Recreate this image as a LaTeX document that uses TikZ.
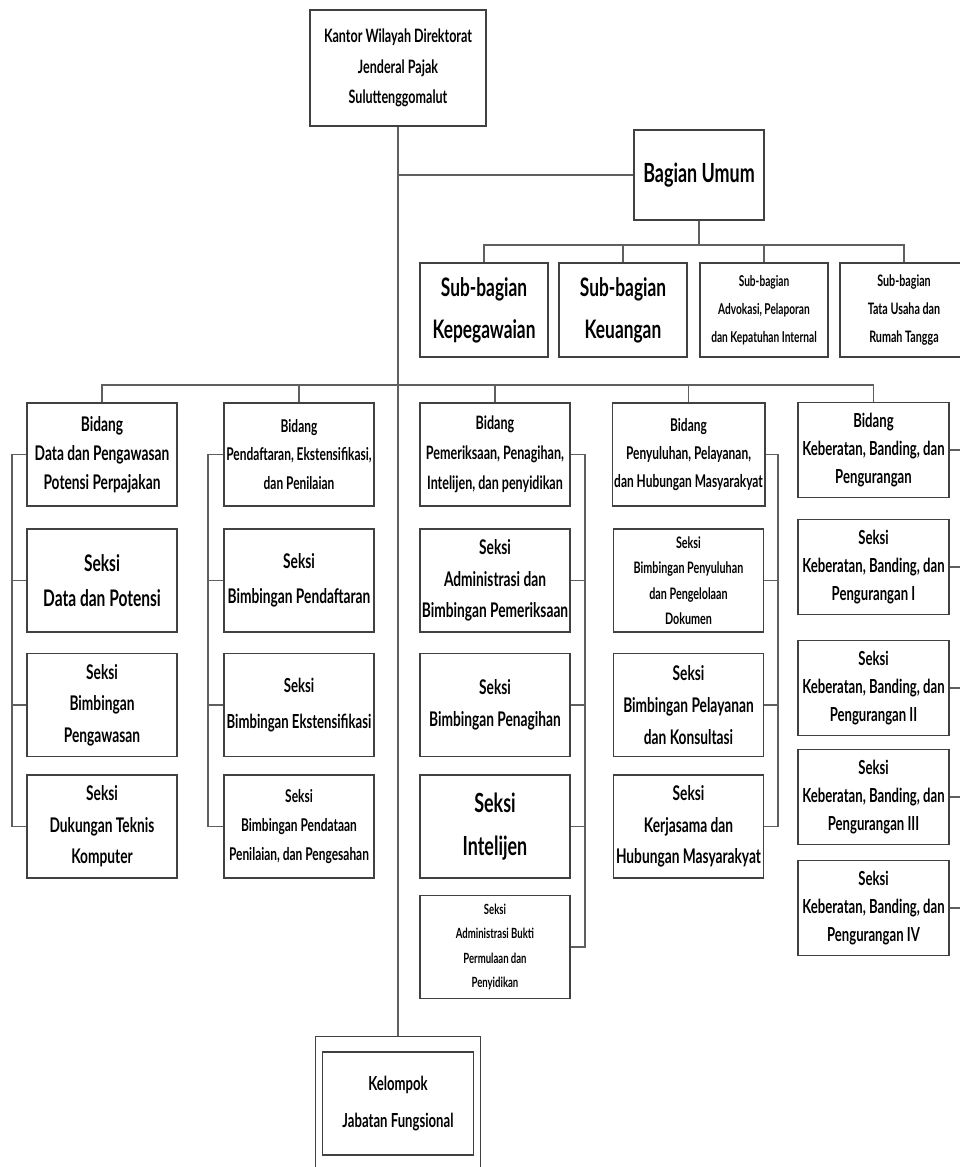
\documentclass[tikz,border=0pt]{standalone}
\usepackage{fontspec}
\setmainfont{Lato}[FakeStretch=0.68]
\usepackage{tikz}
\usetikzlibrary{positioning, calc}
\definecolor{boxgray}{RGB}{65, 65, 65}
\definecolor{linegray}{RGB}{95, 95, 95}
\tikzset{
  unit/.style={draw=boxgray, line width=1.1pt, fill=white, align=center,
    inner sep=1pt, minimum width=3cm, minimum height=2.06cm,
    font=\fontsize{11.5}{18}\bfseries\selectfont},
  subunit/.style={unit, minimum width=2.56cm, minimum height=1.88cm},
  sideunit/.style={unit, minimum width=3.02cm, minimum height=1.9cm,
    font=\fontsize{11}{16}\bfseries\selectfont},
  link/.style={draw=linegray, line width=0.8pt},
}

\begin{document}
\begin{tikzpicture}[x=0.02cm, y=-0.02cm]
        \useasboundingbox (0,0) rectangle (960,1167);

        % head office and general section
        \node[unit, minimum width=3.52cm, minimum height=2.32cm,
          font=\fontsize{10.5}{17.5}\bfseries\selectfont] (kantor) at (398,68)
          {Kantor Wilayah Direktorat\\Jenderal Pajak\\Suluttenggomalut};
        \node[unit, minimum width=2.6cm, minimum height=1.8cm,
          font=\fontsize{15}{20}\bfseries\selectfont] (umum) at (699,175) {Bagian Umum};

        \node[subunit, font=\fontsize{14.5}{24}\bfseries\selectfont] (sbpeg) at (484,310)
          {Sub-bagian\\Kepegawaian};
        \node[subunit, font=\fontsize{14.5}{24}\bfseries\selectfont] (sbkeu) at (623,310)
          {Sub-bagian\\Keuangan};
        \node[subunit, font=\fontsize{8.5}{16}\bfseries\selectfont] (sbadv) at (764,310)
          {Sub-bagian\\Advokasi, Pelaporan\\dan Kepatuhan Internal};
        \node[subunit, font=\fontsize{9}{16}\bfseries\selectfont] (sbtu) at (904,310)
          {Sub-bagian\\Tata Usaha dan\\Rumah Tangga};

        % column 1
        \node[unit, font=\fontsize{11.5}{16.5}\bfseries\selectfont] (b1) at (102,454.5)
          {Bidang\\Data dan Pengawasan\\Potensi Perpajakan};
        \node[unit, font=\fontsize{13}{20}\bfseries\selectfont] (s11) at (102,580.5)
          {Seksi\\Data dan Potensi};
        \node[unit] (s12) at (102,705) {Seksi\\Bimbingan\\Pengawasan};
        \node[unit] (s13) at (102,826.5) {Seksi\\Dukungan Teknis\\Komputer};

        % column 2
        \node[unit, font=\fontsize{10}{16}\bfseries\selectfont] (b2) at (299,454.5)
          {Bidang\\Pendaftaran, Ekstensifikasi,\\dan Penilaian};
        \node[unit, font=\fontsize{11.5}{20}\bfseries\selectfont] (s21) at (299,580.5)
          {Seksi\\Bimbingan Pendaftaran};
        \node[unit, font=\fontsize{11}{20}\bfseries\selectfont] (s22) at (299,705)
          {Seksi\\Bimbingan Ekstensifikasi};
        \node[unit, font=\fontsize{10}{16.5}\bfseries\selectfont] (s23) at (299,826.5)
          {Seksi\\Bimbingan Pendataan\\Penilaian, dan Pengesahan};

        % column 3
        \node[unit, font=\fontsize{10.5}{17}\bfseries\selectfont] (b3) at (495,454.5)
          {Bidang\\Pemeriksaan, Penagihan,\\Intelijen, dan penyidikan};
        \node[unit] (s31) at (495,580.5)
          {Seksi\\Administrasi dan\\Bimbingan Pemeriksaan};
        \node[unit] (s32) at (495,705) {Seksi\\Bimbingan Penagihan};
        \node[unit, font=\fontsize{15}{24}\bfseries\selectfont] (s33) at (495,826.5)
          {Seksi\\Intelijen};
        \node[unit, font=\fontsize{8}{14}\bfseries\selectfont] (s34) at (495,947)
          {Seksi\\Administrasi Bukti\\Permulaan dan\\Penyidikan};

        % column 4
        \node[unit, font=\fontsize{10}{16}\bfseries\selectfont] (b4) at (688.5,454.5)
          {Bidang\\Penyuluhan, Pelayanan,\\dan Hubungan Masyarakyat};
        \node[unit, font=\fontsize{9}{14.5}\bfseries\selectfont] (s41) at (688.5,580.5)
          {Seksi\\Bimbingan Penyuluhan\\dan Pengelolaan\\Dokumen};
        \node[unit] (s42) at (688.5,705)
          {Seksi\\Bimbingan Pelayanan\\dan Konsultasi};
        \node[unit] (s43) at (688.5,826.5)
          {Seksi\\Kerjasama dan\\Hubungan Masyarakyat};

        % column 5
        \node[sideunit] (b5) at (873.5,450)
          {Bidang\\Keberatan, Banding, dan\\Pengurangan};
        \node[sideunit] (s51) at (873.5,567)
          {Seksi\\Keberatan, Banding, dan\\Pengurangan I};
        \node[sideunit] (s52) at (873.5,688)
          {Seksi\\Keberatan, Banding, dan\\Pengurangan II};
        \node[sideunit] (s53) at (873.5,797)
          {Seksi\\Keberatan, Banding, dan\\Pengurangan III};
        \node[sideunit] (s54) at (873.5,908)
          {Seksi\\Keberatan, Banding, dan\\Pengurangan IV};

        % functional group (outer frame runs off the page)
        \node[unit, minimum width=3.3cm, minimum height=3.1cm] (kelompok)
          at (398,1114) {};
        \node[unit, minimum width=3.02cm, font=\fontsize{11}{21}\bfseries\selectfont]
          (jabatan) at (398,1103.5) {Kelompok\\Jabatan Fungsional};

        % bus lines and bracket positions
        \coordinate (ubus) at (0,245);
        \coordinate (mbus) at (0,385);
        \coordinate (bk1) at (12,0);
        \coordinate (bk2) at (208,0);
        \coordinate (bk3) at (585,0);
        \coordinate (bk4) at (778,0);
        \coordinate (bk5) at (960,0);

        % trunk
        \draw[link] (kantor.south) -- (kelompok.north);
        \draw[link] (umum.west) -- (umum.west -| kantor.south);

        % general section bus
        \draw[link] (umum.south) -- (umum.south |- ubus);
        \draw[link] (sbpeg.north) -- (sbpeg.north |- ubus)
          -- (sbtu.north |- ubus) -- (sbtu.north);
        \draw[link] (sbkeu.north) -- (sbkeu.north |- ubus);
        \draw[link] (sbadv.north) -- (sbadv.north |- ubus);

        % main bus
        \draw[link] (b1.north) -- (b1.north |- mbus)
          -- (b5.north |- mbus) -- (b5.north);
        \draw[link] (b2.north) -- (b2.north |- mbus);
        \draw[link] (b3.north) -- (b3.north |- mbus);
        \draw[link] (b4.north) -- (b4.north |- mbus);

        % brackets, column 1
        \draw[link] (b1.west) -- (b1.west -| bk1) -- (s13.west -| bk1) -- (s13.west);
        \draw[link] (s11.west) -- (s11.west -| bk1);
        \draw[link] (s12.west) -- (s12.west -| bk1);

        % brackets, column 2
        \draw[link] (b2.west) -- (b2.west -| bk2) -- (s23.west -| bk2) -- (s23.west);
        \draw[link] (s21.west) -- (s21.west -| bk2);
        \draw[link] (s22.west) -- (s22.west -| bk2);

        % brackets, column 3
        \draw[link] (b3.east) -- (b3.east -| bk3) -- (s34.east -| bk3) -- (s34.east);
        \draw[link] (s31.east) -- (s31.east -| bk3);
        \draw[link] (s32.east) -- (s32.east -| bk3);
        \draw[link] (s33.east) -- (s33.east -| bk3);

        % brackets, column 4
        \draw[link] (b4.east) -- (b4.east -| bk4) -- (s43.east -| bk4) -- (s43.east);
        \draw[link] (s41.east) -- (s41.east -| bk4);
        \draw[link] (s42.east) -- (s42.east -| bk4);

        % stubs, column 5
        \draw[link] (b5.east) -- (b5.east -| bk5);
        \draw[link] (s51.east) -- (s51.east -| bk5);
        \draw[link] (s52.east) -- (s52.east -| bk5);
        \draw[link] (s53.east) -- (s53.east -| bk5);
        \draw[link] (s54.east) -- (s54.east -| bk5);
      \end{tikzpicture}
\end{document}
